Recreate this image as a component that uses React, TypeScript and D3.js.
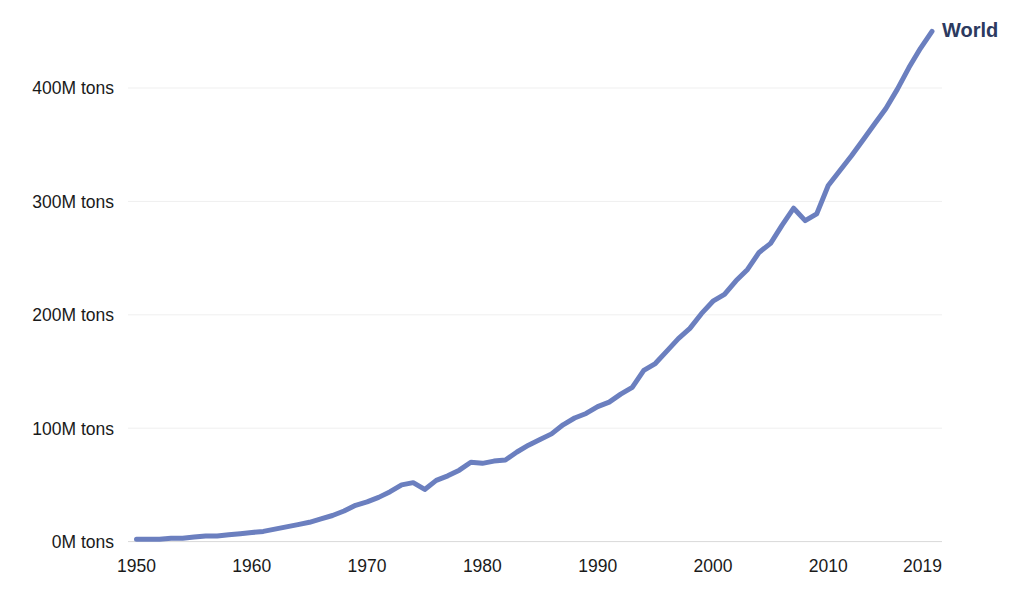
import React from "react";
import * as d3 from "d3";

const years: number[] = [
  1950, 1951, 1952, 1953, 1954, 1955, 1956, 1957, 1958, 1959,
  1960, 1961, 1962, 1963, 1964, 1965, 1966, 1967, 1968, 1969,
  1970, 1971, 1972, 1973, 1974, 1975, 1976, 1977, 1978, 1979,
  1980, 1981, 1982, 1983, 1984, 1985, 1986, 1987, 1988, 1989,
  1990, 1991, 1992, 1993, 1994, 1995, 1996, 1997, 1998, 1999,
  2000, 2001, 2002, 2003, 2004, 2005, 2006, 2007, 2008, 2009,
  2010, 2011, 2012, 2013, 2014, 2015, 2016, 2017, 2018, 2019,
];

// Million tonnes
const worldProduction: number[] = [
  2, 2, 2, 3, 3, 4, 5, 5, 6, 7,
  8, 9, 11, 13, 15, 17, 20, 23, 27, 32,
  35, 39, 44, 50, 52, 46, 54, 58, 63, 70,
  69, 71, 72, 79, 85, 90, 95, 103, 109, 113,
  119, 123, 130, 136, 151, 157, 168, 179, 188, 201,
  212, 218, 230, 240, 255, 263, 279, 294, 283, 289,
  314, 327, 340, 354, 368, 382, 399, 418, 435, 450,
];

const yTicks: number[] = [0, 100, 200, 300, 400];
const xTicks: number[] = [1950, 1960, 1970, 1980, 1990, 2000, 2010, 2019];
const seriesName = "World";

const W = 1017;
const H = 602;
const FONT = "'Liberation Sans', Arial, sans-serif";

export default function App() {
  const x = d3.scaleLinear().domain([1950, 2019]).range([136.5, 932]);
  const y = d3.scaleLinear().domain([0, 400]).range([541.6, 88]);
  const gridX0 = 128;
  const gridX1 = 942;

  const data = years.map((yr, i) => ({ yr, v: worldProduction[i] }));
  const line = d3
    .line<{ yr: number; v: number }>()
    .x((d) => x(d.yr))
    .y((d) => y(d.v));

  const last = data[data.length - 1];

  return (
    <svg
      width={W}
      height={H}
      style={{ position: "absolute", left: 0, top: 0, background: "#fff" }}
      fontFamily={FONT}
    >
      {yTicks.map((t) => (
        <g key={t}>
          <line
            x1={gridX0}
            x2={gridX1}
            y1={y(t)}
            y2={y(t)}
            stroke={t === 0 ? "#d9d9d9" : "#efefef"}
            strokeWidth={1}
          />
          <text
            x={114}
            y={y(t) + 6.3}
            textAnchor="end"
            fontSize={17.5}
            fill="#1a1a1a"
          >
            {`${t}M tons`}
          </text>
        </g>
      ))}
      {xTicks.map((t, i) => (
        <text
          key={t}
          x={i === xTicks.length - 1 ? gridX1 : x(t)}
          y={572}
          textAnchor={i === xTicks.length - 1 ? "end" : "middle"}
          fontSize={17.5}
          fill="#1a1a1a"
        >
          {t}
        </text>
      ))}
      <path
        d={line(data) || ""}
        fill="none"
        stroke="#6b7fbf"
        strokeWidth={5}
        strokeLinejoin="round"
        strokeLinecap="round"
      />
      <text
        x={gridX1}
        y={y(last.v) + 5.5}
        fontSize={20}
        fontWeight="bold"
        fill="#2c3a60"
      >
        {seriesName}
      </text>
    </svg>
  );
}
